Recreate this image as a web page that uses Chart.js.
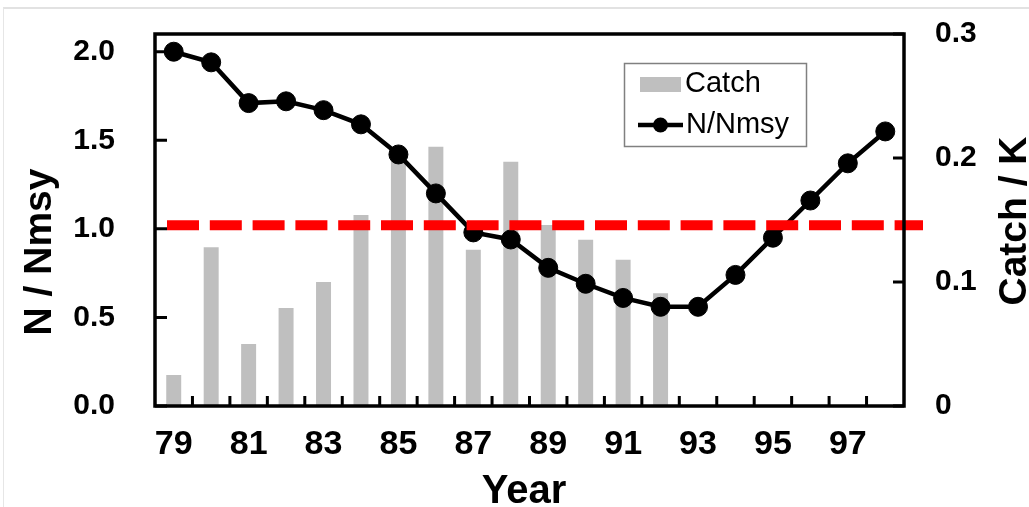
<!DOCTYPE html>
<html>
<head>
<meta charset="utf-8">
<script src="https://cdn.jsdelivr.net/npm/chart.js@4"></script>
<style>
    html, body { margin: 0; padding: 0; background: #fff; }
    #wrap { position: relative; width: 1029px; height: 507px; overflow: hidden; }
    #edge { position: absolute; left: 3px; top: 7px; right: 0; bottom: 0;
            border-top: 2px solid #e2e2e2; border-left: 1px solid #e6e6e6; pointer-events: none; }
</style>
</head>
<body>
<div id="wrap">
    <canvas id="grafico" width="1029" height="507"></canvas>
    <div id="edge"></div>
</div>
<script>
// dados
const anos = ['79', '80', '81', '82', '83', '84', '85', '86', '87', '88',
              '89', '90', '91', '92', '93', '94', '95', '96', '97', '98'];
const nNmsy = [2.00, 1.94, 1.71, 1.72, 1.67, 1.59, 1.42, 1.20, 0.98, 0.94,
               0.78, 0.69, 0.61, 0.56, 0.56, 0.74, 0.95, 1.16, 1.37, 1.55];
const capturaK = [0.025, 0.128, 0.050, 0.079, 0.100, 0.154, 0.199, 0.209, 0.126, 0.197,
                  0.146, 0.134, 0.118, 0.091, null, null, null, null, null, null];
const nivelRef = 1.02;
const ticksEsq = [0, 0.5, 1.0, 1.5, 2.0];
const ticksDir = [0, 0.1, 0.2, 0.3];

const FONTE = "'Liberation Sans', Arial, sans-serif";

// tira o padding automático das escalas para a área ficar onde queremos
const semPadding = s => { s.paddingTop = 0; s.paddingBottom = 0; s.paddingLeft = 0; s.paddingRight = 0; };

// moldura, marcas internas, linha tracejada, legenda e títulos
const extras = {
    id: 'extras',
    afterDatasetsDraw(chart) {
        const { ctx, chartArea: a, scales } = chart;
        ctx.save();

        // linha de referência vermelha
        const yRef = scales.y.getPixelForValue(nivelRef);
        ctx.strokeStyle = '#ff0000';
        ctx.lineWidth = 10;
        ctx.setLineDash([32, 10.8]);
        ctx.beginPath();
        ctx.moveTo(a.left + 12, yRef);
        ctx.lineTo(a.right + 19, yRef);
        ctx.stroke();
        ctx.setLineDash([]);

        // marcas dos eixos (para dentro)
        ctx.strokeStyle = '#000';
        ctx.lineWidth = 3;
        ctx.beginPath();
        scales.y.ticks.forEach((t, i) => {
            const y = scales.y.getPixelForTick(i);
            ctx.moveTo(a.left, y); ctx.lineTo(a.left + 12, y);
        });
        scales.y2.ticks.forEach((t, i) => {
            const y = scales.y2.getPixelForTick(i);
            ctx.moveTo(a.right, y); ctx.lineTo(a.right - 11, y);
        });
        for (let i = 1; i < anos.length; i++) {
            const x = (scales.x.getPixelForTick(i - 1) + scales.x.getPixelForTick(i)) / 2;
            ctx.moveTo(x, a.bottom); ctx.lineTo(x, a.bottom - 10);
        }
        ctx.stroke();

        // moldura
        ctx.lineWidth = 3.5;
        ctx.strokeRect(a.left, a.top, a.right - a.left, a.bottom - a.top);

        // legenda
        ctx.lineWidth = 1.5;
        ctx.strokeStyle = '#808080';
        ctx.strokeRect(624.5, 63.5, 182, 83);
        ctx.fillStyle = '#bfbfbf';
        ctx.fillRect(640, 77, 41, 15);
        ctx.strokeStyle = '#000';
        ctx.lineWidth = 4.5;
        ctx.beginPath();
        ctx.moveTo(638, 125); ctx.lineTo(683, 125);
        ctx.stroke();
        ctx.fillStyle = '#000';
        ctx.beginPath();
        ctx.arc(660.5, 125, 7.5, 0, Math.PI * 2);
        ctx.fill();
        ctx.font = `29px ${FONTE}`;
        ctx.textAlign = 'left';
        ctx.textBaseline = 'middle';
        ctx.fillText('Catch', 685, 84);
        ctx.fillText('N/Nmsy', 686, 125);

        // títulos dos eixos
        ctx.font = `bold 39px ${FONTE}`;
        ctx.textAlign = 'center';
        ctx.textBaseline = 'alphabetic';
        ctx.save();
        ctx.translate(51, 252);
        ctx.rotate(-Math.PI / 2);
        ctx.fillText('N / Nmsy', 0, 0);
        ctx.restore();
        ctx.save();
        ctx.translate(1026, 221);
        ctx.rotate(-Math.PI / 2);
        ctx.fillText('Catch / K', 0, 0);
        ctx.restore();
        ctx.font = `bold 40px ${FONTE}`;
        ctx.fillText('Year', 524, 503);

        ctx.restore();
    }
};

new Chart(document.getElementById('grafico').getContext('2d'), {
    type: 'bar',
    data: {
        labels: anos,
        datasets: [
            {
                type: 'line',
                label: 'N/Nmsy',
                data: nNmsy,
                yAxisID: 'y',
                order: 0,
                borderColor: '#000',
                borderWidth: 4.5,
                tension: 0,
                pointRadius: 9.5,
                pointBorderWidth: 1,
                pointBackgroundColor: '#000',
                pointBorderColor: '#000'
            },
            {
                label: 'Catch',
                data: capturaK,
                yAxisID: 'y2',
                order: 1,
                backgroundColor: '#bfbfbf',
                barPercentage: 0.4,
                categoryPercentage: 1.0
            }
        ]
    },
    options: {
        responsive: false,
        animation: false,
        devicePixelRatio: 1,
        layout: { padding: { top: 34, left: 0, right: 0, bottom: 0 } },
        plugins: {
            legend: { display: false },
            tooltip: { enabled: false }
        },
        scales: {
            x: {
                offset: true,
                grid: { display: false, drawTicks: false, offset: true },
                border: { display: false },
                ticks: {
                    autoSkip: false,
                    maxRotation: 0,
                    padding: 18,
                    color: '#000',
                    font: { family: FONTE, size: 34, weight: 'bold' },
                    callback: (v, i) => (i % 2 === 0 ? anos[i] : '')
                },
                afterFit: s => { s.height = 101; semPadding(s); }
            },
            y: {
                position: 'left',
                min: 0,
                max: 2.1,
                afterBuildTicks: s => { s.ticks = ticksEsq.map(v => ({ value: v })); },
                grid: { display: false, drawTicks: false },
                border: { display: false },
                ticks: {
                    padding: 40,
                    color: '#000',
                    font: { family: FONTE, size: 30, weight: 'bold' },
                    callback: v => v.toFixed(1)
                },
                afterFit: s => { s.width = 155; semPadding(s); }
            },
            y2: {
                position: 'right',
                min: 0,
                max: 0.3,
                afterBuildTicks: s => { s.ticks = ticksDir.map(v => ({ value: v })); },
                grid: { display: false, drawTicks: false },
                border: { display: false },
                ticks: {
                    padding: 31,
                    color: '#000',
                    font: { family: FONTE, size: 30, weight: 'bold' },
                    callback: v => (v === 0 ? '0' : v.toFixed(1))
                },
                afterFit: s => { s.width = 125; semPadding(s); }
            }
        }
    },
    plugins: [extras]
});
</script>
</body>
</html>
